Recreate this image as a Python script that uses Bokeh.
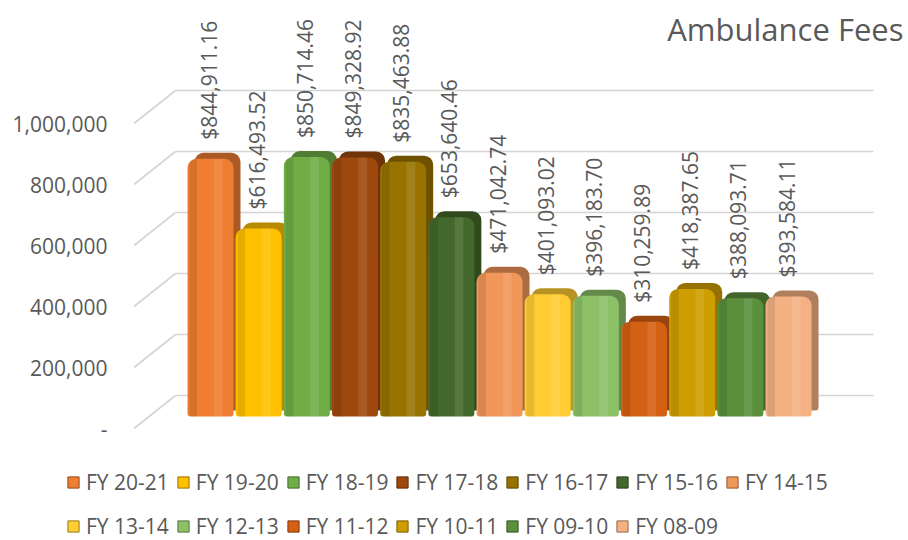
import math

from bokeh.core.properties import value
from bokeh.embed import file_html
from bokeh.layouts import column
from bokeh.models import (ColumnDataSource, Label, Legend, LegendItem,
                          NumeralTickFormatter, Range1d)
from bokeh.plotting import figure
from bokeh.resources import INLINE
from bokeh.transform import dodge

# ---------------------------------------------------------------- data
fiscal_years = ["FY 20-21", "FY 19-20", "FY 18-19", "FY 17-18", "FY 16-17",
                "FY 15-16", "FY 14-15", "FY 13-14", "FY 12-13", "FY 11-12",
                "FY 10-11", "FY 09-10", "FY 08-09"]
fees = [844911.16, 616493.52, 850714.46, 849328.92, 835463.88, 653640.46,
        471042.74, 401093.02, 396183.70, 310259.89, 418387.65, 388093.71,
        393584.11]
bar_colors = ["#EF7E32", "#FFC000", "#70AD47", "#9E480E", "#997300",
              "#43682B", "#F1975A", "#FFCD33", "#8CC168", "#D46014",
              "#CE9E00", "#5A8F3C", "#F4B183"]
y_ticks = [0, 200000, 400000, 600000, 800000, 1000000]
chart_title = "Ambulance Fees"

# ---------------------------------------------------------------- layout
W, H = 908, 540
CHART_H = 452                             # height of the chart part
FRAME_LEFT = 133                          # canvas px of the plot frame
BAR0_PX, PITCH_PX = 210, 48.17            # first bar centre, bar spacing
ZERO_PX, PX_PER_VAL = 428, 305 / 1e6      # front value scale
DEPTH_DX, DEPTH_DY = 42, 33               # perspective depth of the walls
BAR_LIFT = 12                             # bars sit a little into the floor
SIDE_DX, SIDE_DY = 7, 6                   # extrusion of each column

FONT = value("Open Sans")
TEXT_COLOR = "#595959"
GRID_COLOR = "#D4D4D4"


def x_at(px):
    return (px - BAR0_PX) / PITCH_PX


def vals(px):
    return px / PX_PER_VAL


def shade(hex_color, f):
    r, g, b = (int(hex_color[i:i + 2], 16) for i in (1, 3, 5))
    return "#%02x%02x%02x" % (int(r * f), int(g * f), int(b * f))


x_range = Range1d(x_at(FRAME_LEFT), x_at(W))
y_range = Range1d(-vals(CHART_H - ZERO_PX), vals(ZERO_PX))

p = figure(width=W, height=CHART_H, x_range=x_range, y_range=y_range,
           output_backend="svg", toolbar_location=None, title=None,
           x_axis_location=None, min_border_left=FRAME_LEFT,
           min_border_right=0, min_border_top=0, min_border_bottom=0,
           frame_align=False)
p.outline_line_color = None
p.grid.visible = False
p.background_fill_color = "white"
p.border_fill_color = "white"

# ranges for the column faces: same scale, shifted baseline
lift = vals(BAR_LIFT)
p.extra_y_ranges = {
    "front": Range1d(y_range.start - lift, y_range.end - lift),
    "back": Range1d(y_range.start - lift - vals(SIDE_DY),
                    y_range.end - lift - vals(SIDE_DY)),
}

# ---------------------------------------------------------------- walls
back_left, back_right = x_at(FRAME_LEFT + DEPTH_DX), x_at(873)
depth = vals(DEPTH_DY)
grid = ColumnDataSource(dict(
    fx=[x_range.start + 0.01] * len(y_ticks), bx=[back_left] * len(y_ticks),
    rx=[back_right] * len(y_ticks), fy=y_ticks,
    by=[t + depth for t in y_ticks]))
p.segment(x0="fx", y0="fy", x1="bx", y1="by", source=grid,
          line_color=GRID_COLOR, line_width=1.6)
p.segment(x0="bx", y0="by", x1="rx", y1="by", source=grid,
          line_color=GRID_COLOR, line_width=1.6)

# ---------------------------------------------------------------- legend strip
leg = figure(width=W, height=H - CHART_H, x_range=Range1d(-2, -1),
             y_range=Range1d(0, 1), output_backend="svg",
             toolbar_location=None, title=None, x_axis_location=None,
             y_axis_location=None, min_border=0, frame_align=False)
leg.outline_line_color = None
leg.grid.visible = False

# ---------------------------------------------------------------- columns
face_w = 46 / PITCH_PX
radius = (9, 9, 3, 3)
legend_items = []
for i, (fy, fee, col) in enumerate(zip(fiscal_years, fees, bar_colors)):
    src = ColumnDataSource(dict(x=[i], fee=[fee],
                                label=["${:,.2f}".format(fee)]))
    p.vbar(x=dodge("x", SIDE_DX / PITCH_PX), width=face_w, bottom=0,
           top="fee", source=src, y_range_name="back",
           fill_color=shade(col, 0.72), line_color=None,
           border_radius=radius)
    p.vbar(x="x", width=face_w, bottom=0, top="fee", source=src,
           y_range_name="front", fill_color=col, line_color=None,
           border_radius=radius)
    # soft cylinder shading across the face
    p.vbar(x=dodge("x", -0.36), width=0.16, bottom=0, top="fee", source=src,
           y_range_name="front", fill_color="black", fill_alpha=0.10,
           line_color=None, border_radius=(6, 0, 0, 3))
    p.vbar(x=dodge("x", 0.16), width=0.18, bottom=0, top="fee", source=src,
           y_range_name="front", fill_color="white", fill_alpha=0.10,
           line_color=None)
    p.text(x="x", y="fee", text="label", source=src, y_range_name="front",
           angle=math.pi / 2, x_offset=-2, y_offset=-19,
           text_align="left", text_baseline="middle", text_font=FONT,
           text_font_size="21px", text_color=TEXT_COLOR)
    # same series in the legend strip (its range keeps the bar off-screen)
    key = leg.vbar(x="x", width=face_w, bottom=0, top="fee", source=src,
                   fill_color=col, line_color=shade(col, 0.6),
                   line_width=1)
    legend_items.append(LegendItem(label=fy, renderers=[key]))

# ---------------------------------------------------------------- axis
ax = p.yaxis[0]
ax.ticker = y_ticks
ax.formatter = NumeralTickFormatter(format="0,0")
ax.major_label_overrides = {0: "-"}
ax.axis_line_color = None
ax.major_tick_line_color = None
ax.minor_tick_line_color = None
ax.major_tick_out = 0
ax.major_label_standoff = 26
ax.major_label_text_font = "Open Sans"
ax.major_label_text_font_size = "21px"
ax.major_label_text_color = TEXT_COLOR

# ---------------------------------------------------------------- title
p.add_layout(Label(x=x_at(903), y=vals(ZERO_PX - 28), text=chart_title,
                   text_align="right", text_baseline="middle",
                   text_font="Open Sans", text_font_size="31px",
                   text_color=TEXT_COLOR))

# ---------------------------------------------------------------- legend
legend = Legend(items=legend_items, orientation="horizontal", ncols=7,
                location=(66, -4), padding=0, margin=0, spacing=7,
                glyph_width=14, glyph_height=14, label_standoff=6,
                label_height=37, label_text_font="Open Sans",
                label_text_font_size="21px", label_text_color=TEXT_COLOR,
                border_line_color=None, background_fill_alpha=0)
leg.add_layout(legend)

layout = column(p, leg, spacing=0)
open("out.html", "w").write(file_html(layout, INLINE))
